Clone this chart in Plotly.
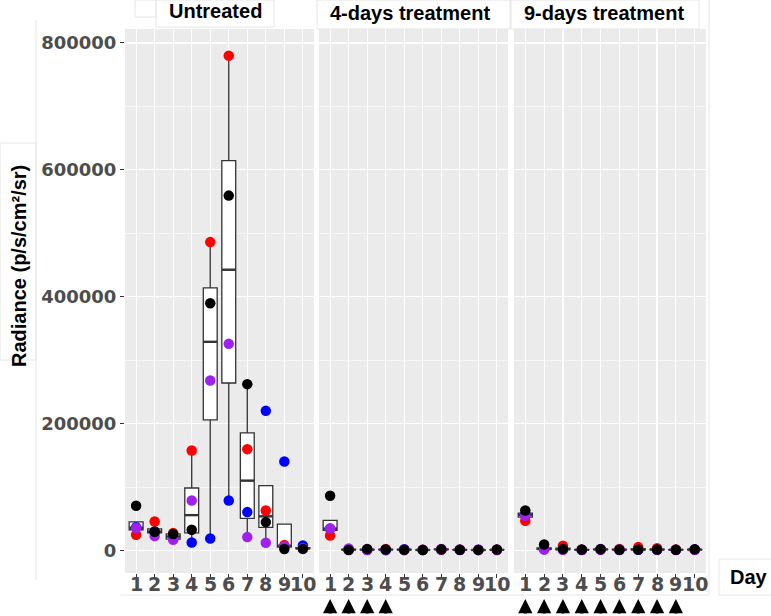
import numpy as np
import plotly.graph_objects as go

# ---------------- data ----------------
days = list(range(1, 11))
day_labels = [str(d) for d in days]
panels = ["Untreated", "4-days treatment", "9-days treatment"]
mouse_names = ["blue", "red", "purple", "black"]  # drawing order (black on top)
mouse_colors = {"black": "#000000", "red": "#FF0000", "purple": "#A020F0", "blue": "#0000FF"}

untreated_black = [70400, 29500, 25800, 32600, 389800, 559400, 262200, 44700, 2200, 2500]
untreated_red = [24700, 45700, 27400, 157600, 486100, 780000, 159700, 63000, 8500, 3000]
untreated_purple = [35300, 22700, 16800, 78800, 268000, 325700, 21100, 12100, 6500, 3500]
untreated_blue = [36500, 30000, 18300, 12600, 18900, 78800, 60500, 220100, 140200, 8000]

treat4_black = [86200, 800, 2500, 1500, 1000, 800, 1800, 1200, 900, 1500]
treat4_red = [23600, 1500, 1500, 2500, 500, 1200, 1500, 1000, 700, 1000]
treat4_purple = [34700, 3000, 1000, 1200, 1500, 1000, 2500, 1500, 1500, 1200]
treat4_blue = [34500, 1200, 800, 500, 2000, 600, 1000, 800, 600, 800]

treat9_black = [63000, 9500, 2200, 1500, 1800, 1000, 1500, 1500, 1000, 1800]
treat9_red = [46800, 2500, 7400, 1200, 1500, 2500, 5300, 3500, 1500, 1200]
treat9_purple = [54700, 1500, 1000, 1000, 1200, 1500, 1000, 1000, 800, 1000]
treat9_blue = [57500, 2000, 1500, 800, 2500, 800, 1200, 1200, 1200, 1500]

arrow_days_4 = [1, 2, 3, 4]
arrow_days_9 = [1, 2, 3, 4, 5, 6, 7, 8, 9]

y_tick_vals = [0, 200000, 400000, 600000, 800000]
y_tick_text = ["0", "200000", "400000", "600000", "800000"]
y_title = "Radiance (p/s/cm²/sr)"
x_title = "Day"

panel_data = [
    {"black": untreated_black, "red": untreated_red, "purple": untreated_purple, "blue": untreated_blue},
    {"black": treat4_black, "red": treat4_red, "purple": treat4_purple, "blue": treat4_blue},
    {"black": treat9_black, "red": treat9_red, "purple": treat9_purple, "blue": treat9_blue},
]

# ---------------- layout geometry (page pixels) ----------------
W, H = 771, 616
PLOT_L, PLOT_R, PLOT_T, PLOT_B = 125, 706, 29, 573
ML, MR, MT, MB = PLOT_L, W - PLOT_R, PLOT_T, H - PLOT_B
PW = W - ML - MR
PH = H - MT - MB
BOX_W = 0.75


def px(xp):
    return (xp - ML) / PW


def py(yp):
    return (H - MB - yp) / PH


domains = [[px(125), px(314)], [px(319), px(508)], [px(514), px(706)]]


def box_stats(vals):
    v = np.sort(np.asarray(vals, dtype=float))
    q1, med, q3 = np.percentile(v, [25, 50, 75])
    iqr = q3 - q1
    lo = v[v >= q1 - 1.5 * iqr].min()
    hi = v[v <= q3 + 1.5 * iqr].max()
    return q1, med, q3, min(lo, q1), max(hi, q3)


fig = go.Figure()

for i, pdata in enumerate(panel_data):
    xa = "x" if i == 0 else f"x{i+1}"
    ya = "y" if i == 0 else f"y{i+1}"
    stats = [box_stats([pdata[m][k] for m in mouse_names]) for k in range(len(days))]
    fig.add_trace(go.Box(
        x=days,
        q1=[s[0] for s in stats], median=[s[1] for s in stats], q3=[s[2] for s in stats],
        lowerfence=[s[3] for s in stats], upperfence=[s[4] for s in stats],
        fillcolor="white", line=dict(color="#333333", width=1.3),
        width=BOX_W, whiskerwidth=0, boxpoints=False, showlegend=False,
        hoverinfo="skip", xaxis=xa, yaxis=ya,
    ))
    # thicker median bars (ggplot style)
    mx, my = [], []
    for d, s in zip(days, stats):
        mx += [d - BOX_W / 2, d + BOX_W / 2, None]
        my += [s[1], s[1], None]
    fig.add_trace(go.Scatter(x=mx, y=my, mode="lines", line=dict(color="#333333", width=2.4),
                             showlegend=False, hoverinfo="skip", xaxis=xa, yaxis=ya))
    for m in mouse_names:
        fig.add_trace(go.Scatter(
            x=days, y=pdata[m], mode="markers",
            marker=dict(color=mouse_colors[m], size=10.5, line=dict(width=0)),
            showlegend=False, xaxis=xa, yaxis=ya,
        ))

tickfont = dict(family="DejaVu Sans", size=18, color="#4D4D4D", weight="bold")
xtickfont = dict(family="DejaVu Sans", size=19, color="#4D4D4D", weight="bold")
layout = dict(
    width=W, height=H,
    margin=dict(l=ML, r=MR, t=MT, b=MB, autoexpand=False),
    paper_bgcolor="white", plot_bgcolor="#EBEBEB",
    showlegend=False,
)
for i in range(3):
    xk = "xaxis" if i == 0 else f"xaxis{i+1}"
    yk = "yaxis" if i == 0 else f"yaxis{i+1}"
    ya = "y" if i == 0 else f"y{i+1}"
    layout[xk] = dict(
        domain=domains[i], range=[0.4, 10.6], anchor=ya,
        tickmode="array", tickvals=days, showticklabels=False,
        ticks="outside", ticklen=4, tickcolor="#333333", tickwidth=1,
        showgrid=True, gridcolor="white", gridwidth=1.2, zeroline=False,
        showline=False, fixedrange=True, automargin=False,
    )
    ydict = dict(
        domain=[0, 1], range=[-35500, 822000], anchor="x" if i == 0 else f"x{i+1}",
        tickmode="array", tickvals=y_tick_vals, ticktext=y_tick_text,
        showgrid=True, gridcolor="white", gridwidth=1.2, zeroline=False,
        minor=dict(tick0=0, dtick=100000, showgrid=True, gridcolor="white", gridwidth=0.6, ticks=""),
        showline=False, fixedrange=True, automargin=False,
    )
    if i == 0:
        ydict.update(tickfont=tickfont, ticks="outside", ticklen=4, tickcolor="#333333", tickwidth=1)
    else:
        ydict.update(matches="y", showticklabels=False, ticks="")
    layout[yk] = ydict

fig.update_layout(**layout)

# x tick labels (placed on each panel's x axis)
for i in range(3):
    xa = "x" if i == 0 else f"x{i+1}"
    for d, lab in zip(days, day_labels):
        fig.add_annotation(x=d, y=py(584), xref=xa, yref="paper", text=lab, showarrow=False,
                           xanchor="center", yanchor="middle", font=xtickfont)

# strip titles
strip_centers = [(215, 11), (410, 13), (604, 13)]
for (cx, cy), name in zip(strip_centers, panels):
    fig.add_annotation(x=px(cx), y=py(cy), xref="paper", yref="paper", text=f"<b>{name}</b>",
                       showarrow=False, xanchor="center", yanchor="middle",
                       font=dict(family="Liberation Sans", size=20, color="black"))

# axis titles
fig.add_annotation(x=px(19), y=py(266), xref="paper", yref="paper", text=f"<b>{y_title}</b>",
                   showarrow=False, textangle=-90, xanchor="center", yanchor="middle",
                   font=dict(family="Liberation Sans", size=20, color="black"))
fig.add_annotation(x=px(749), y=py(577), xref="paper", yref="paper", text=f"<b>{x_title}</b>",
                   showarrow=False, xanchor="center", yanchor="middle",
                   font=dict(family="Liberation Sans", size=20, color="black"))

# treatment arrows
for axname, arrow_days in (("x2", arrow_days_4), ("x3", arrow_days_9)):
    for d in arrow_days:
        fig.add_annotation(x=d, y=py(599), xref=axname, yref="paper", text="",
                           showarrow=True, ax=0, ay=16, arrowhead=2, arrowsize=0.95,
                           arrowwidth=3, arrowcolor="black")

# faint frame lines around text boxes
faint = "#E6E6E6"
boxes = [(156, 0, 274, 27), (135, 0, 156, 17), (317, 0, 510, 29), (511, 0, 699, 29),
         (719, 559, 775, 595), (0, 143, 36, 360)]
for x0, y0, x1, y1 in boxes:
    fig.add_shape(type="rect", xref="paper", yref="paper", x0=px(x0), x1=px(x1), y0=py(y0), y1=py(y1),
                  line=dict(color=faint, width=1), fillcolor="rgba(0,0,0,0)", layer="below")
lines = [(120, 595, 709, 595), (709, 0, 709, 595), (36, 20, 36, 580)]
for x0, y0, x1, y1 in lines:
    fig.add_shape(type="line", xref="paper", yref="paper", x0=px(x0), x1=px(x1), y0=py(y0), y1=py(y1),
                  line=dict(color=faint, width=1), layer="below")

fig.write_html(
    "out.html",
    config={"displayModeBar": False, "staticPlot": True},
    post_script="document.body.style.margin='0';document.body.style.overflow='hidden';",
)
